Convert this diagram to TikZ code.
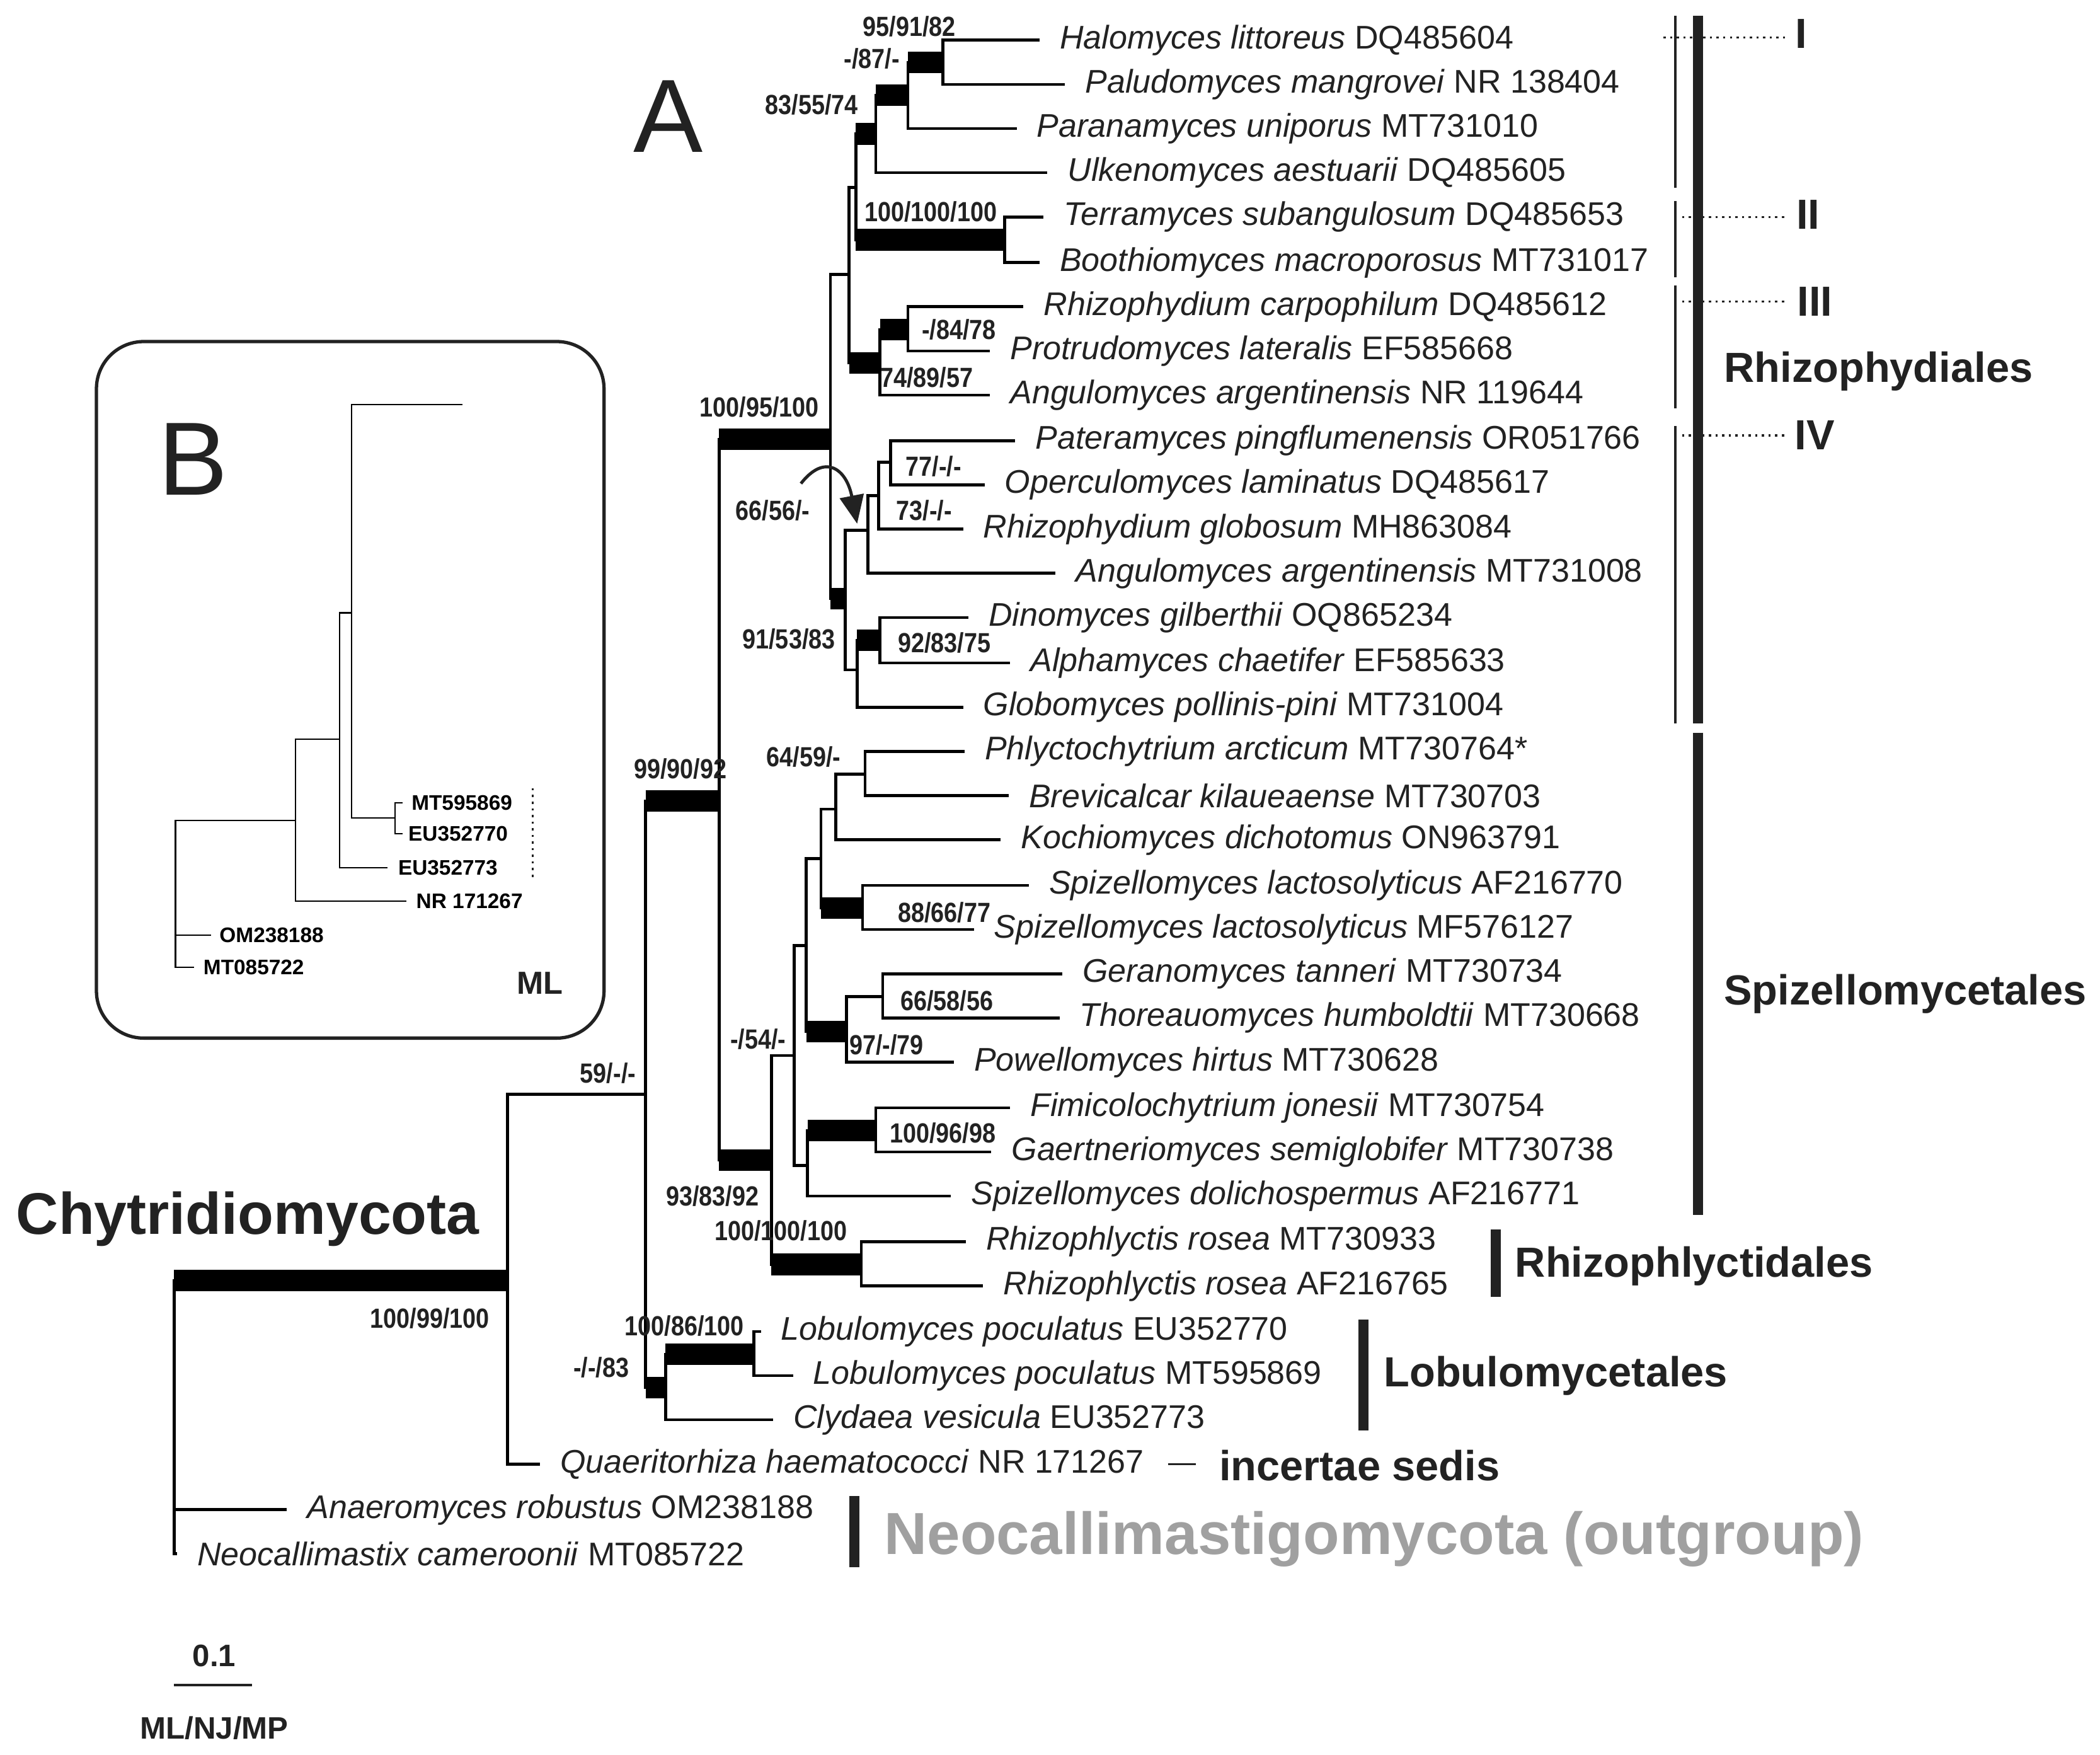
\documentclass[tikz,border=0pt]{standalone}
\usepackage{fontspec}
\setmainfont{Liberation Sans}
\newfontfamily\cond{Liberation Sans}[FakeStretch=0.86]
\usetikzlibrary{arrows.meta}
\definecolor{ink}{HTML}{222222}
\definecolor{outg}{HTML}{A0A0A0}
\newcommand\tn[2]{\draw[br] (#1) |- (#2);}
\newcommand\tb[2]{\draw[br] (#1) -- (#1|-#2); \draw[thk] (#1|-#2) -- (#2);}
\begin{document}
\begin{tikzpicture}[x=0.021256cm,y=-0.021256cm,
  br/.style={line width=1.3pt,line cap=rect,black},
  thk/.style={line width=9.8pt,line cap=butt,black},
  tax/.style={anchor=west,inner sep=0pt,font=\fontsize{14.8pt}{16pt}\selectfont,text=ink,xshift=0.34cm},
  sup/.style={inner sep=0pt,font=\fontsize{12.5pt}{13pt}\selectfont\cond\bfseries,text=ink},
  clade/.style={anchor=west,inner sep=0pt,font=\fontsize{19pt}{21pt}\selectfont\bfseries,text=ink},
  cbar/.style={line width=4.5pt,line cap=butt,ink},
  gbar/.style={line width=1pt,ink},
  dots/.style={line width=1pt,dotted,ink},
  ib/.style={line width=0.6pt,black},
  il/.style={anchor=west,inner sep=0pt,font=\fontsize{9.5pt}{11pt}\selectfont\bfseries,text=black}]
\useasboundingbox (0,0) rectangle (1568,1310);
% tips
\coordinate (t0) at (775,30);   \coordinate (t1) at (794,63);
\coordinate (t2) at (758,96);   \coordinate (t3) at (781,129);
\coordinate (t4) at (778,162);  \coordinate (t5) at (775,196);
\coordinate (t6) at (763,229);  \coordinate (t7) at (738,262);
\coordinate (t8) at (738,295);  \coordinate (t9) at (757,329);
\coordinate (t10) at (734,362); \coordinate (t11) at (718,395);
\coordinate (t12) at (787,428); \coordinate (t13) at (722,461);
\coordinate (t14) at (753,495); \coordinate (t15) at (718,528);
\coordinate (t16) at (719,561); \coordinate (t17) at (752,594);
\coordinate (t18) at (746,627); \coordinate (t19) at (767,661);
\coordinate (t20) at (726,694); \coordinate (t21) at (792,727);
\coordinate (t22) at (790,760); \coordinate (t23) at (711,793);
\coordinate (t24) at (753,827); \coordinate (t25) at (739,860);
\coordinate (t26) at (709,893); \coordinate (t27) at (720,927);
\coordinate (t28) at (733,960); \coordinate (t29) at (567,994);
\coordinate (t30) at (591,1027); \coordinate (t31) at (576,1060);
\coordinate (t32) at (402,1093); \coordinate (t33) at (213,1127);
\coordinate (t34) at (131,1160);
% internal nodes
\coordinate (hp) at (704,46.5); \coordinate (na) at (678,71);
\coordinate (nb) at (654,100); \coordinate (tb) at (750,179);
\coordinate (nc) at (639,140); \coordinate (pr) at (678,246);
\coordinate (nr) at (657,271); \coordinate (nd) at (634,205);
\coordinate (pat) at (665,345); \coordinate (g1) at (656,370);
\coordinate (g2) at (648,396); \coordinate (dal) at (657,478);
\coordinate (g3) at (640,500); \coordinate (g4) at (631,447);
\coordinate (ne) at (620,328); \coordinate (ph) at (646,578);
\coordinate (nk) at (624,604); \coordinate (sp) at (644,678);
\coordinate (nf) at (613,641); \coordinate (ge) at (659,744);
\coordinate (pw) at (632,770); \coordinate (nh) at (602,706);
\coordinate (fg) at (654,844); \coordinate (ni) at (603,870);
\coordinate (nj) at (593,788); \coordinate (rp) at (643,944);
\coordinate (k2) at (576,866); \coordinate (nl) at (537,598);
\coordinate (lob) at (563,1011); \coordinate (nm) at (497,1036);
\coordinate (nn) at (482,817); \coordinate (no) at (379,956);
\coordinate (root) at (130,1060);
% branches
\tn{hp}{t0}\tn{hp}{t1}
\tb{na}{hp}\tn{na}{t2}
\tb{nb}{na}\tn{nb}{t3}
\tn{tb}{t4}\tn{tb}{t5}
\tb{nc}{nb}\tb{nc}{tb}
\tn{pr}{t6}\tn{pr}{t7}
\tb{nr}{pr}\tn{nr}{t8}
\tn{nd}{nc}\tb{nd}{nr}
\tn{pat}{t9}\tn{pat}{t10}
\tn{g1}{pat}\tn{g1}{t11}
\tn{g2}{g1}\tn{g2}{t12}
\tn{dal}{t13}\tn{dal}{t14}
\tb{g3}{dal}\tn{g3}{t15}
\tn{g4}{g2}\tn{g4}{g3}
\tn{ne}{nd}\tb{ne}{g4}
\tn{ph}{t16}\tn{ph}{t17}
\tn{nk}{ph}\tn{nk}{t18}
\tn{sp}{t19}\tn{sp}{t20}
\tn{nf}{nk}\tb{nf}{sp}
\tn{ge}{t21}\tn{ge}{t22}
\tn{pw}{ge}\tn{pw}{t23}
\tn{nh}{nf}\tb{nh}{pw}
\tn{fg}{t24}\tn{fg}{t25}
\tb{ni}{fg}\tn{ni}{t26}
\tn{nj}{nh}\tn{nj}{ni}
\tn{rp}{t27}\tn{rp}{t28}
\tn{k2}{nj}\tb{k2}{rp}
\tb{nl}{ne}\tb{nl}{k2}
\tn{lob}{t29}\tn{lob}{t30}
\tb{nm}{lob}\tn{nm}{t31}
\tb{nn}{nl}\tb{nn}{nm}
\tn{no}{nn}\tn{no}{t32}
\tb{root}{no}\tn{root}{t33}\tn{root}{t34}
% taxon labels
\node[tax] (l0) at (t0) {\textit{Halomyces littoreus} DQ485604};
\node[tax] (l1) at (t1) {\textit{Paludomyces mangrovei} NR 138404};
\node[tax] (l2) at (t2) {\textit{Paranamyces uniporus} MT731010};
\node[tax] (l3) at (t3) {\textit{Ulkenomyces aestuarii} DQ485605};
\node[tax] (l4) at (t4) {\textit{Terramyces subangulosum} DQ485653};
\node[tax] (l5) at (t5) {\textit{Boothiomyces macroporosus} MT731017};
\node[tax] (l6) at (t6) {\textit{Rhizophydium carpophilum} DQ485612};
\node[tax] (l7) at (t7) {\textit{Protrudomyces lateralis} EF585668};
\node[tax] (l8) at (t8) {\textit{Angulomyces argentinensis} NR 119644};
\node[tax] (l9) at (t9) {\textit{Pateramyces pingflumenensis} OR051766};
\node[tax] (l10) at (t10) {\textit{Operculomyces laminatus} DQ485617};
\node[tax] (l11) at (t11) {\textit{Rhizophydium globosum} MH863084};
\node[tax] (l12) at (t12) {\textit{Angulomyces argentinensis} MT731008};
\node[tax] (l13) at (t13) {\textit{Dinomyces gilberthii} OQ865234};
\node[tax] (l14) at (t14) {\textit{Alphamyces chaetifer} EF585633};
\node[tax] (l15) at (t15) {\textit{Globomyces pollinis-pini} MT731004};
\node[tax] (l16) at (t16) {\textit{Phlyctochytrium arcticum} MT730764*};
\node[tax] (l17) at (t17) {\textit{Brevicalcar kilaueaense} MT730703};
\node[tax] (l18) at (t18) {\textit{Kochiomyces dichotomus} ON963791};
\node[tax] (l19) at (t19) {\textit{Spizellomyces lactosolyticus} AF216770};
\node[tax] (l20) at (t20) {\textit{Spizellomyces lactosolyticus} MF576127};
\node[tax] (l21) at (t21) {\textit{Geranomyces tanneri} MT730734};
\node[tax] (l22) at (t22) {\textit{Thoreauomyces humboldtii} MT730668};
\node[tax] (l23) at (t23) {\textit{Powellomyces hirtus} MT730628};
\node[tax] (l24) at (t24) {\textit{Fimicolochytrium jonesii} MT730754};
\node[tax] (l25) at (t25) {\textit{Gaertneriomyces semiglobifer} MT730738};
\node[tax] (l26) at (t26) {\textit{Spizellomyces dolichospermus} AF216771};
\node[tax] (l27) at (t27) {\textit{Rhizophlyctis rosea} MT730933};
\node[tax] (l28) at (t28) {\textit{Rhizophlyctis rosea} AF216765};
\node[tax] (l29) at (t29) {\textit{Lobulomyces poculatus} EU352770};
\node[tax] (l30) at (t30) {\textit{Lobulomyces poculatus} MT595869};
\node[tax] (l31) at (t31) {\textit{Clydaea vesicula} EU352773};
\node[tax] (l32) at (t32) {\textit{Quaeritorhiza haematococci} NR 171267};
\node[tax] (l33) at (t33) {\textit{Anaeromyces robustus} OM238188};
\node[tax] (l34) at (t34) {\textit{Neocallimastix cameroonii} MT085722};
% support values
\node[sup] (s1) at (679,20) {95/91/82};
\node[sup] (s2) at (651,44) {-/87/-};
\node[sup] (s3) at (606,78) {83/55/74};
\node[sup] (s4) at (695,158) {100/100/100};
\node[sup] (s5) at (716,246) {-/84/78};
\node[sup] (s6) at (692,282) {74/89/57};
\node[sup] (s7) at (567,304) {100/95/100};
\node[sup] (s8) at (697,348) {77/-/-};
\node[sup] (s9) at (690,381) {73/-/-};
\node[sup] (s10) at (577,381) {66/56/-};
\node[sup] (s11) at (589,477) {91/53/83};
\node[sup] (s12) at (705,480) {92/83/75};
\node[sup] (s13) at (508,574) {99/90/92};
\node[sup] (s14) at (600,565) {64/59/-};
\node[sup] (s15) at (705,681) {88/66/77};
\node[sup] (s16) at (707,747) {66/58/56};
\node[sup] (s17) at (662,780) {97/-/79};
\node[sup] (s18) at (566,776) {-/54/-};
\node[sup] (s19) at (704,846) {100/96/98};
\node[sup] (s20) at (532,893) {93/83/92};
\node[sup] (s21) at (583,919) {100/100/100};
\node[sup] (s22) at (454,801) {59/-/-};
\node[sup] (s23) at (511,990) {100/86/100};
\node[sup] (s24) at (449,1021) {-/-/83};
\node[sup] (s25) at (321,984) {100/99/100};
% arrow
\coordinate (ar0) at (598,361);
\coordinate (ar1) at (640,391);
\draw[line width=1.4pt,ink,-{Triangle[length=0.45cm,width=0.38cm]}] (ar0) .. controls (616,338) and (632,350) .. (ar1);
% big letters
\node[inner sep=0pt,font=\fontsize{47pt}{50pt}\selectfont,text=ink] (A) at (499,87) {A};
\node[inner sep=0pt,font=\fontsize{26.5pt}{28pt}\selectfont\bfseries,text=ink] (chy) at (185,910) {Chytridiomycota};
% clade bars
\draw[gbar] (1251,12) -- (1251,140);
\draw[gbar] (1251,150) -- (1251,207);
\draw[gbar] (1251,213) -- (1251,305);
\draw[gbar] (1251,318) -- (1251,540);
\draw[cbar] (1268,12) -- (1268,540);
\draw[cbar] (1268,547) -- (1268,907);
\draw[cbar] (1117,918) -- (1117,968);
\draw[cbar] (1018,985) -- (1018,1068);
\draw[cbar] (638,1117) -- (638,1170);
\draw[line width=1pt,ink] (872,1093) -- (893,1093);
\draw[dots] (1242,28) -- (1335,28);
\draw[dots] (1256,162) -- (1335,162);
\draw[dots] (1256,225) -- (1335,225);
\draw[dots] (1256,325) -- (1335,325);
\node[clade,anchor=center] (r1) at (1345,25) {I};
\node[clade,anchor=center] (r2) at (1350,160) {II};
\node[clade,anchor=center] (r3) at (1355,225) {III};
\node[clade,anchor=center] (r4) at (1355,325) {IV};
\node[clade] (c1) at (1287,277) {Rhizophydiales};
\node[clade] (c2) at (1287,742) {Spizellomycetales};
\node[clade] (c3) at (1131,945) {Rhizophlyctidales};
\node[clade] (c4) at (1033,1027) {Lobulomycetales};
\node[clade] (c5) at (910,1094) {incertae sedis};
\node[clade,font=\fontsize{26.8pt}{28pt}\selectfont\bfseries,text=outg] (c6) at (660,1149) {Neocallimastigomycota (outgroup)};
% scale bar
\node[sup,font=\fontsize{14pt}{16pt}\selectfont\bfseries] (sc) at (160,1236) {0.1};
\coordinate (sb0) at (130,1258); \coordinate (sb1) at (188,1258);
\draw[line width=1.2pt,ink] (sb0) -- (sb1);
\node[sup,font=\fontsize{14pt}{16pt}\selectfont\bfseries] (mm) at (160,1290) {ML/NJ/MP};
% inset B
\draw[line width=1.5pt,ink,rounded corners=0.75cm] (72,255) rectangle (451,775);
\node[inner sep=0pt,font=\fontsize{47pt}{50pt}\selectfont,text=ink] (B) at (144,343) {B};
\coordinate (ia) at (262.6,457.5); \coordinate (ib) at (253.6,552);
\coordinate (ic) at (220.5,612.5); \coordinate (ir) at (131,680);
\coordinate (il) at (295,610.6);
\coordinate (i0) at (345.4,302); \coordinate (i1) at (300.8,599.3);
\coordinate (i2) at (300.8,622.4); \coordinate (i3) at (289.3,647.8);
\coordinate (i4) at (303.4,672.6); \coordinate (i5) at (157.5,698.3);
\coordinate (i6) at (145,722);
\draw[ib] (ia) |- (i0); \draw[ib] (ia) |- (il);
\draw[ib] (il) |- (i1); \draw[ib] (il) |- (i2);
\draw[ib] (ib) |- (ia); \draw[ib] (ib) |- (i3);
\draw[ib] (ic) |- (ib); \draw[ib] (ic) |- (i4);
\draw[ib] (ir) |- (ic); \draw[ib] (ir) |- (i5); \draw[ib] (ir) |- (i6);
\node[il] (j1) at (307,599.3) {MT595869};
\node[il] (j2) at (304.6,622.4) {EU352770};
\node[il] (j3) at (297,647.8) {EU352773};
\node[il] (j4) at (310.5,672.6) {NR 171267};
\node[il] (j5) at (163.6,698.3) {OM238188};
\node[il] (j6) at (151.6,722) {MT085722};
\draw[dots,line width=0.8pt] (397.7,588.5) -- (397.7,657.7);
\node[inner sep=0pt,font=\fontsize{14.4pt}{16pt}\selectfont\bfseries,text=ink] (ml) at (403,734) {ML};
\end{tikzpicture}
\end{document}
